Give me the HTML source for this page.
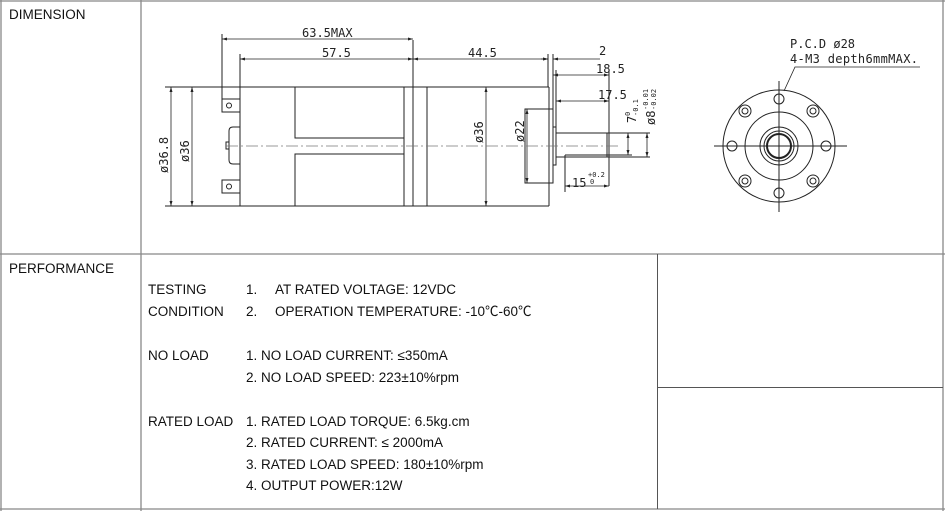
<!DOCTYPE html>
<html><head><meta charset="utf-8">
<style>
html,body{margin:0;padding:0;background:#fff;}
svg{display:block;}
.t{font-family:"Liberation Sans","Noto Sans CJK SC",sans-serif;font-size:13.5px;fill:#111;}
.d{font-family:"DejaVu Sans Mono","Liberation Mono",monospace;font-size:12px;fill:#222;}
</style></head><body>
<svg width="945" height="511" viewBox="0 0 945 511" xmlns="http://www.w3.org/2000/svg">
<defs>
<marker id="a" viewBox="0 0 10 10" refX="10" refY="5" markerWidth="7" markerHeight="5" orient="auto-start-reverse" markerUnits="userSpaceOnUse"><path d="M0,2 L10,5 L0,8 z" fill="#222"/></marker>
</defs>
<g stroke="#888" stroke-width="1.3" fill="none">
<line x1="0" y1="1" x2="945" y2="1"/>
<line x1="0" y1="254" x2="945" y2="254"/>
<line x1="0" y1="509" x2="945" y2="509"/>
<line x1="1" y1="0" x2="1" y2="511"/>
<line x1="141" y1="0" x2="141" y2="511"/>
<line x1="943" y1="0" x2="943" y2="511"/>
</g>
<g stroke="#555" stroke-width="1" fill="none">
<line x1="657.5" y1="254" x2="657.5" y2="509"/>
<line x1="657" y1="387.5" x2="943" y2="387.5"/>
</g>
<text class="t" x="9" y="19">DIMENSION</text>
<text class="t" x="9" y="273">PERFORMANCE</text>

<g stroke="#222" stroke-width="1" fill="none">
<line x1="165" y1="87" x2="549" y2="87"/>
<line x1="165" y1="206" x2="549" y2="206"/>
<line x1="240" y1="87" x2="240" y2="206"/>
<line x1="404" y1="87" x2="404" y2="206"/>
<line x1="413" y1="40" x2="413" y2="206"/>
<line x1="427" y1="87" x2="427" y2="206"/>
<line x1="549" y1="87" x2="549" y2="206"/>
<rect x="295" y="87" width="109" height="51"/>
<rect x="295" y="154" width="109" height="52"/>
<rect x="222" y="99" width="18" height="13"/>
<rect x="222" y="180" width="18" height="13"/>
<circle cx="229" cy="105.5" r="2.5"/>
<circle cx="229" cy="186.5" r="2.5"/>
<path d="M240,127 L233,127 Q229,127 229,131 L229,160 Q229,164 233,164 L240,164"/>
<rect x="226" y="142" width="3" height="7"/>
<line x1="222" y1="34" x2="222" y2="99"/>
<line x1="240" y1="54" x2="240" y2="87"/>
<line x1="548" y1="54" x2="548" y2="87"/>
<line x1="553" y1="54" x2="553" y2="109"/>
<line x1="556" y1="70" x2="556" y2="127"/>
<line x1="609" y1="70" x2="609" y2="186"/>
<rect x="525" y="109" width="28" height="74"/>
<rect x="553" y="127" width="3" height="38"/>
<rect x="556" y="133" width="53" height="24"/>
<line x1="607" y1="133" x2="607" y2="157"/>
<line x1="565" y1="155" x2="565" y2="192"/>
<line x1="565" y1="155" x2="609" y2="155"/>
<line x1="609" y1="157" x2="650" y2="157"/>
<line x1="609" y1="133" x2="650" y2="133"/>
<line x1="609" y1="155" x2="632" y2="155"/>
</g>
<g stroke="#222" stroke-width="0.8" fill="none" marker-start="url(#a)" marker-end="url(#a)">
<line x1="222" y1="39" x2="413" y2="39"/>
<line x1="240" y1="59" x2="413" y2="59"/>
<line x1="413" y1="59" x2="548" y2="59"/>
<line x1="553" y1="75" x2="609" y2="75"/>
<line x1="556" y1="101" x2="609" y2="101"/>
<line x1="565" y1="186" x2="609" y2="186"/>
<line x1="171" y1="87" x2="171" y2="206"/>
<line x1="192" y1="87" x2="192" y2="206"/>
<line x1="486" y1="87" x2="486" y2="206"/>
<line x1="527" y1="109" x2="527" y2="183"/>
<line x1="628" y1="133" x2="628" y2="155"/>
<line x1="647" y1="133" x2="647" y2="157"/>
</g>
<g stroke="#222" stroke-width="0.8" fill="none">
<line x1="541" y1="59" x2="548" y2="59" marker-end="url(#a)"/>
<line x1="553" y1="59" x2="600" y2="59" marker-start="url(#a)"/>
</g>
<line x1="226" y1="146" x2="620" y2="146" stroke="#777" stroke-width="0.8" stroke-dasharray="12,3,2,3"/>
<g class="d">
<text x="302" y="37">63.5MAX</text>
<text x="322" y="57">57.5</text>
<text x="468" y="57">44.5</text>
<text x="599" y="55">2</text>
<text x="596" y="73">18.5</text>
<text x="598" y="99">17.5</text>
<text x="572" y="187">15</text>
<text x="588" y="177" style="font-size:7px">+0.2</text>
<text x="590" y="184" style="font-size:7px">0</text>
<text transform="translate(168,173) rotate(-90)">ø36.8</text>
<text transform="translate(189,162) rotate(-90)">ø36</text>
<text transform="translate(483,143) rotate(-90)">ø36</text>
<text transform="translate(524,142) rotate(-90)">ø22</text>
<text transform="translate(636,123) rotate(-90)">7</text>
<text transform="translate(630,116) rotate(-90)" style="font-size:7px">0</text>
<text transform="translate(638,116) rotate(-90)" style="font-size:7px">-0.1</text>
<text transform="translate(655,125) rotate(-90)">ø8</text>
<text transform="translate(648,110) rotate(-90)" style="font-size:7px">-0.01</text>
<text transform="translate(656,110) rotate(-90)" style="font-size:7px">-0.02</text>
</g>

<g stroke="#222" stroke-width="1" fill="none">
<circle cx="779" cy="146" r="56"/>
<circle cx="779" cy="146" r="34"/>
<circle cx="779" cy="146" r="19"/>
<circle cx="779" cy="146" r="15"/>
<circle cx="779" cy="146" r="12" stroke-width="2"/>
<line x1="714" y1="146" x2="847" y2="146"/>
<line x1="779" y1="81" x2="779" y2="212"/>
<circle cx="779" cy="99" r="5"/><circle cx="779" cy="193" r="5"/>
<circle cx="732" cy="146" r="5"/><circle cx="826" cy="146" r="5"/>
<circle cx="745" cy="111" r="6"/><circle cx="745" cy="111" r="3"/>
<circle cx="813" cy="111" r="6"/><circle cx="813" cy="111" r="3"/>
<circle cx="745" cy="181" r="6"/><circle cx="745" cy="181" r="3"/>
<circle cx="813" cy="181" r="6"/><circle cx="813" cy="181" r="3"/>
<polyline points="784,91 795,67 920,67" stroke-width="0.8"/>
</g>
<text class="d" x="790" y="48">P.C.D ø28</text>
<text class="d" x="790" y="63" textLength="128">4-M3 depth6mmMAX.</text>

<g class="t">
<text x="148" y="294">TESTING</text>
<text x="246" y="294">1.</text>
<text x="275" y="294">AT RATED VOLTAGE: 12VDC</text>
<text x="148" y="316">CONDITION</text>
<text x="246" y="316">2.</text>
<text x="275" y="316">OPERATION TEMPERATURE: -10℃-60℃</text>
<text x="148" y="360">NO LOAD</text>
<text x="246" y="360">1. NO LOAD CURRENT: ≤350mA</text>
<text x="246" y="382">2. NO LOAD SPEED: 223±10%rpm</text>
<text x="148" y="426">RATED LOAD</text>
<text x="246" y="426">1. RATED LOAD TORQUE: 6.5kg.cm</text>
<text x="246" y="447">2. RATED CURRENT: ≤ 2000mA</text>
<text x="246" y="469">3. RATED LOAD SPEED: 180±10%rpm</text>
<text x="246" y="490">4. OUTPUT POWER:12W</text>
</g>
</svg>
</body></html>
